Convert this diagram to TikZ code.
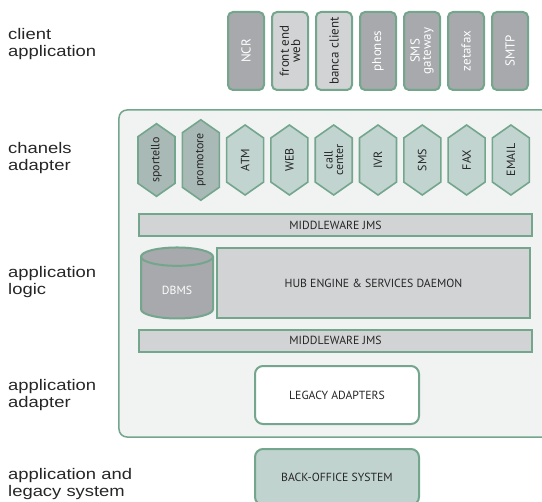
\documentclass[tikz,border=0pt]{standalone}
\usepackage{fontspec}
\setmainfont{PT Sans}
\newfontfamily\lblfont[FakeStretch=1.2]{Liberation Sans}
\usetikzlibrary{shapes.geometric,shapes.symbols,positioning}
\definecolor{edgegreen}{HTML}{73A68C}
\definecolor{darkgr}{HTML}{A7A9AC}
\definecolor{lightgr}{HTML}{D1D3D4}
\definecolor{panelgr}{HTML}{F1F2F2}
\definecolor{hexlight}{HTML}{C1D4D0}
\definecolor{hexdark}{HTML}{A9B9B6}
\definecolor{backof}{HTML}{C0D3CF}
\colorlet{txt}{black!85}
\tikzset{
  layer/.style  = { anchor=west, align=left, text=txt,
    font=\lblfont\fontsize{15.4}{17.5}\selectfont, inner sep=0pt },
  client/.style = { draw=edgegreen, line width=2bp, rounded corners=5bp, rotate=90,
    minimum width=78bp, minimum height=36bp, inner sep=1bp, align=center,
    font=\fontsize{13}{11.5}\selectfont },
  hexa/.style   = { signal, signal to=east and west, signal pointer angle=110,
    draw=edgegreen, line width=1.6bp, rotate=90, minimum width=70bp,
    minimum height=37bp, inner sep=0.5bp, align=center, text=txt,
    font=\fontsize{12}{10.5}\selectfont },
  bar/.style    = { draw=edgegreen, line width=2bp, fill=lightgr, text=txt,
    font=\fontsize{11.8}{11.8}\selectfont },
  adapt/.style  = { draw=edgegreen, line width=2bp, rounded corners=8bp, text=txt,
    minimum width=164bp, minimum height=58bp, font=\fontsize{11.8}{11.8}\selectfont }
}
\begin{document}
\begin{tikzpicture}[x=1bp,y=-1bp]
  \useasboundingbox (0,0) rectangle (542,502);
  % layer labels
  \node[layer] (lclient) at (8,44)  {client\\application};
  \node[layer] (lchan)   at (8,158) {chanels\\adapter};
  \node[layer] (llogic)  at (8,282) {application\\logic};
  \node[layer] (ladapt)  at (8,395) {application\\adapter};
  \node[layer] (llegacy) at (8,484) {application and\\legacy system};
  % client applications
  \foreach \lab/\fil/\col [count=\i from 0] in
    {NCR/darkgr/white, front end\\web/lightgr/txt, banca client/lightgr/txt,
     phones/darkgr/white, SMS\\gateway/darkgr/white, zetafax/darkgr/white,
     SMTP/darkgr/white}
    \node[client, fill=\fil, text=\col] (c\i) at (246+44*\i,51) {\lab};
  % core panel
  \node[draw=edgegreen, line width=1.5bp, rounded corners=8bp, fill=panelgr,
    minimum width=451bp, minimum height=327bp] (core) at (344.5,273.5) {};
  % channel adapters
  \foreach \lab/\fil [count=\i from 0] in
    {sportello/hexdark, promotore/hexdark, ATM/hexlight, WEB/hexlight,
     call\\center/hexlight, IVR/hexlight, SMS/hexlight, FAX/hexlight,
     EMAIL/hexlight}
    \node[hexa, fill=\fil] (h\i) at (156.5+44.3*\i,160) {\lab};
  % application logic
  \node[bar, minimum width=393bp, minimum height=22bp] (mwtop) at (335.5,225) {MIDDLEWARE JMS};
  \node[bar, minimum width=313bp, minimum height=70bp] (hub) at (373.5,283) {HUB ENGINE \& SERVICES DAEMON};
  \node[cylinder, shape border rotate=90, aspect=0.5, draw=edgegreen, line width=2bp,
    fill=darkgr, text=white, minimum width=72bp, minimum height=71bp,
    font=\fontsize{11.8}{11.8}\selectfont] (dbms) at (177,290) {DBMS};
  \node[bar, minimum width=393bp, minimum height=22bp] (mwbot) at (335.5,340.5) {MIDDLEWARE JMS};
  % adapters and back office
  \node[adapt, fill=white] (legacy) at (337,395) {LEGACY ADAPTERS};
  \node[adapt, fill=backof, minimum height=56bp] (backoff) at (337,477) {BACK-OFFICE SYSTEM};
\end{tikzpicture}
\end{document}
